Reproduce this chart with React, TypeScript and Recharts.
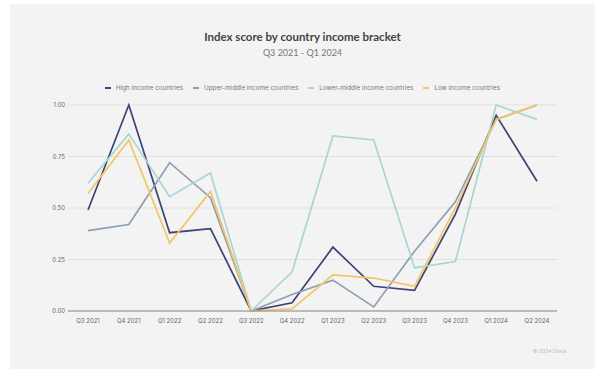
import React from 'react';
import { LineChart, Line, XAxis, YAxis, CartesianGrid } from 'recharts';

const quarters = ['Q3 2021', 'Q4 2021', 'Q1 2022', 'Q2 2022', 'Q3 2022', 'Q4 2022', 'Q1 2023', 'Q2 2023', 'Q3 2023', 'Q4 2023', 'Q1 2024', 'Q2 2024'];
const highIncome = [0.49, 1.0, 0.38, 0.4, 0.0, 0.04, 0.31, 0.12, 0.1, 0.47, 0.95, 0.63];
const upperMiddle = [0.39, 0.42, 0.72, 0.55, 0.0, 0.08, 0.15, 0.02, 0.29, 0.53, 0.93, 1.0];
const lowerMiddle = [0.62, 0.86, 0.555, 0.67, 0.0, 0.19, 0.85, 0.83, 0.21, 0.24, 1.0, 0.93];
const lowIncome = [0.57, 0.83, 0.33, 0.58, 0.0, 0.01, 0.175, 0.16, 0.12, 0.5, 0.93, 1.0];
const yTicks = [0, 0.25, 0.5, 0.75, 1.0];

const series = [
  { key: 'high', name: 'High income countries', color: '#3e4275', values: highIncome },
  { key: 'upper', name: 'Upper-middle income countries', color: '#8c9fb4', values: upperMiddle },
  { key: 'lower', name: 'Lower-middle income countries', color: '#a8d6d1', values: lowerMiddle },
  { key: 'low', name: 'Low income countries', color: '#f3c566', values: lowIncome },
];

const data = quarters.map((q, i) => {
  const row: any = { q };
  series.forEach((s) => { row[s.key] = s.values[i]; });
  return row;
});

const FONT = 'Inter, "Noto Sans", sans-serif';

export default function App() {
  return (
    <div style={{ position: 'absolute', left: 0, top: 0, width: 595, height: 369, background: '#ffffff', overflow: 'hidden', fontFamily: FONT }}>
      <div style={{ position: 'absolute', left: 10, top: 4, width: 585, height: 365, background: '#f3f3f3' }} />
      <div style={{ position: 'absolute', left: 10, width: 585, top: 30, textAlign: 'center', fontFamily: 'Lato, sans-serif', fontWeight: 700, fontSize: 11.5, color: '#444', lineHeight: '14px' }}>
        Index score by country income bracket
      </div>
      <div style={{ position: 'absolute', left: 10, width: 585, top: 47, textAlign: 'center', fontFamily: 'Lato, sans-serif', fontSize: 9, color: '#777', lineHeight: '12px' }}>
        Q3 2021 - Q1 2024
      </div>
      <div style={{ position: 'absolute', left: 10, width: 595, top: 84, display: 'flex', justifyContent: 'center', alignItems: 'center', fontSize: 6.3, color: '#777', lineHeight: '8px' }}>
        {series.map((s) => (
          <div key={s.key} style={{ display: 'flex', alignItems: 'center', marginRight: 10 }}>
            <div style={{ width: 6, height: 2, background: s.color, marginRight: 5 }} />
            <span>{s.name}</span>
          </div>
        ))}
      </div>
      <div style={{ position: 'absolute', left: 0, top: 0 }}>
        <LineChart width={595} height={369} data={data} margin={{ top: 105, right: 38, bottom: 28, left: 0 }}>
          <CartesianGrid vertical={false} stroke="#dcdcdc" strokeWidth={0.8} />
          <XAxis
            dataKey="q"
            scale="point"
            padding={{ left: 20, right: 20 }}
            tickLine={false}
            axisLine={{ stroke: '#8a8a8a', strokeWidth: 1 }}
            tick={{ fontSize: 6, fill: '#666', fontFamily: FONT }}
            tickMargin={2}
            height={30}
            interval={0}
          />
          <YAxis
            type="number"
            domain={[0, 1]}
            ticks={yTicks}
            tickFormatter={(v: number) => v.toFixed(2)}
            axisLine={false}
            tickLine={false}
            tickSize={2}
            tickMargin={1}
            tick={{ fontSize: 6, fill: '#666', fontFamily: FONT }}
            width={68}
          />
          {series.map((s) => (
            <Line
              key={s.key}
              type="linear"
              dataKey={s.key}
              name={s.name}
              stroke={s.color}
              strokeWidth={1.7}
              dot={false}
              activeDot={false}
              isAnimationActive={false}
            />
          ))}
        </LineChart>
      </div>
      <div style={{ position: 'absolute', left: 533, top: 348, fontSize: 5, color: '#bbb' }}>© 2024 Ookla</div>
    </div>
  );
}
